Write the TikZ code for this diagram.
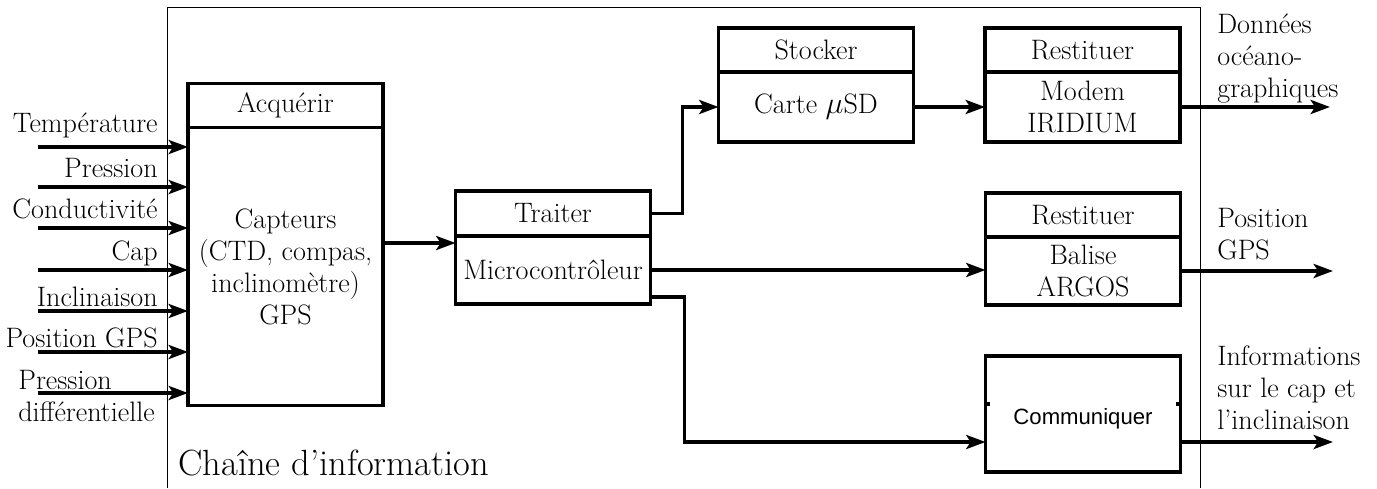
\documentclass[tikz,border=0pt]{standalone}
\usepackage{fontspec}
\newfontfamily\arialfont{Liberation Sans}
\usetikzlibrary{positioning,arrows.meta}
\newcommand\taille{\fontsize{16}{18.2}\selectfont}
\tikzset{
  bloc/.style={draw, line width=2pt, outer sep=0pt, minimum width=3.9cm, align=center, font=\taille, inner sep=0pt},
  entete/.style={bloc, minimum height=0.88cm},
  lien/.style={line width=2pt},
  fleche/.style={lien, -{Stealth[length=11pt,width=8pt,inset=2.5pt]}},
  txt/.style={font=\taille, align=left, inner sep=0pt},
}
\begin{document}
\begin{tikzpicture}[x=0.02cm, y=-0.02cm]
\useasboundingbox (0,0) rectangle (1377,488);
% cadre de la chaine d'information
\draw[line width=0.5pt] (167,488) -- (167,7) -- (1200,7) -- (1200,488);
\node[txt, font=\huge, anchor=base west] (titre) at (178,475) {Chaîne d'information};

% Acquerir
\node[entete] (acqH) at (285.5,105.5) {Acquérir};
\node[bloc, minimum height=5.56cm, below=0pt of acqH] (acqB) {Capteurs\\(CTD, compas,\\inclinomètre)\\GPS};

% Traiter
\node[entete, minimum height=0.9cm] (trtH) at (553,213.5) {Traiter};
\node[bloc, minimum height=1.36cm, below=0pt of trtH] (trtB) {Microcontrôleur};

% Stocker
\node[entete] (stoH) at (816,50) {Stocker};
\node[bloc, minimum height=1.4cm, below=0pt of stoH] (stoB) {Carte $\mu$SD};

% Restituer (modem)
\node[entete] (rst1H) at (1082.5,50) {Restituer};
\node[bloc, minimum height=1.4cm, below=0pt of rst1H] (rst1B) {Modem\\IRIDIUM};

% Restituer (balise)
\node[entete] (rst2H) at (1083,215) {Restituer};
\node[bloc, minimum height=1.36cm, below=0pt of rst2H] (rst2B) {Balise\\ARGOS};

% Communiquer
\node[bloc, minimum height=2.32cm, font=\arialfont\fontsize{12.6}{15}\selectfont] (comm) at (1083,414) {\raisebox{-0.2cm}[0pt][0pt]{Communiquer}};
\draw[lien] ([yshift=0.2cm]comm.west) -- ++(4,0);
\draw[lien] ([yshift=0.2cm]comm.east) -- ++(-4,0);

% entrees
\foreach \y/\b/\lab/\nom in {147/132/Température/temp, 187/177/Pression/pres,
    228/218/Conductivité/cond, 270/260/Cap/cap, 311/306/Inclinaison/incl,
    352/347/Position GPS/gps}{
  \node[txt, anchor=base east] (l\nom) at (158,\b) {\lab};
  \coordinate (e\nom) at (38,\y);
  \draw[fleche] (e\nom) -- (acqB.west |- e\nom);
}
\node[txt, anchor=north west] (lpdif) at (18,370) {Pression\\différentielle};
\coordinate (epdif) at (38,393);
\draw[fleche] (epdif) -- (acqB.west |- epdif);

% liaisons internes
\draw[fleche] (acqB.east |- 0,243) -- (trtB.west |- 0,243);
\draw[fleche] (trtH.east) -- ++(32,0) |- (stoB.west);
\draw[fleche] (trtB.east) -- (trtB.east -| rst2B.west);
\draw[fleche] (trtB.east |- 0,297) -- ++(34,0) |- (comm.west |- 0,442);
\draw[fleche] (stoB.east) -- (rst1B.west);

% sorties
\coordinate (sDon) at (1330,107);
\coordinate (sPos) at (1333,271);
\coordinate (sInf) at (1333,442);
\draw[fleche] (rst1B.east) -- (rst1B.east -| sDon);
\draw[fleche] (rst2B.east) -- (rst2B.east -| sPos);
\draw[fleche] (comm.east |- sInf) -- (sInf);
\node[txt, anchor=north west] (lDon) at (1217,14) {Données\\océano-\\graphiques};
\node[txt, anchor=north west] (lPos) at (1217,208) {Position\\GPS};
\node[txt, anchor=north west] (lInf) at (1217,345) {Informations\\sur le cap et\\l'inclinaison};
\end{tikzpicture}
\end{document}
